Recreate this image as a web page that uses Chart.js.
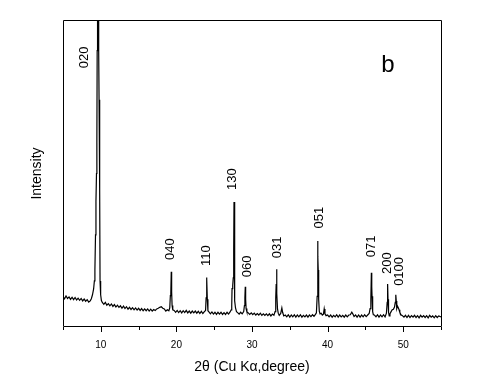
<!DOCTYPE html>
<html>
<head>
<meta charset="utf-8">
<script src="https://cdn.jsdelivr.net/npm/chart.js@4/dist/chart.umd.min.js"></script>
<style>
html,body{margin:0;padding:0;background:#fff;}
#wrap{width:500px;height:380px;}
</style>
</head>
<body>
<div id="wrap"><canvas id="c" width="500" height="380"></canvas></div>
<script>
// ---- data ----
const twoTheta = [
5.0,5.2,5.4,5.6,5.8,6.0,6.2,6.4,6.6,6.8,7.0,7.2,7.4,7.6,7.8,8.0,8.2,8.4,8.6,
8.75,8.9,9.05,9.15,9.22,9.3,9.36,9.43,9.48,9.52,9.57,9.66,9.72,9.77,9.83,9.87,9.9,9.98,10.08,
10.2,10.4,10.6,10.8,11.0,11.2,11.4,11.6,11.8,12.0,12.2,12.4,12.6,12.8,13.0,13.2,13.4,13.6,13.8,14.0,14.2,14.4,14.6,14.8,15.0,15.2,15.4,15.6,15.8,16.0,16.2,16.4,16.6,16.8,17.0,17.2,17.4,17.6,17.8,18.0,18.2,18.4,18.6,18.8,19.0,
19.12,19.2,19.26,19.32,19.37,19.43,19.52,
19.7,19.9,20.1,20.3,20.5,20.7,20.9,21.1,21.3,21.5,21.7,21.9,22.1,22.3,22.5,22.7,22.9,23.1,23.3,23.5,23.7,
23.86,23.93,23.98,24.04,24.09,24.17,
24.3,24.5,24.7,24.9,25.1,25.3,25.5,25.7,25.9,26.1,26.3,26.5,26.7,26.9,27.1,27.25,
27.32,27.36,27.45,27.52,27.58,27.62,27.67,27.71,27.74,27.82,27.95,
28.1,28.3,28.5,28.7,28.9,
29.0,29.06,29.11,29.16,29.22,29.32,
29.5,29.7,29.9,30.1,30.3,30.5,30.7,30.9,31.1,31.3,31.5,31.7,31.9,32.1,32.3,32.5,32.7,32.9,33.05,
33.14,33.2,33.25,33.3,33.37,33.47,
33.6,33.8,33.95,34.05,34.2,34.4,34.6,34.8,35.0,35.2,35.4,35.6,35.8,36.0,36.2,36.4,36.6,36.8,37.0,37.2,37.4,37.6,37.8,38.0,38.2,38.4,38.52,
38.62,38.68,38.73,38.76,38.82,38.9,39.0,39.15,39.3,39.45,39.55,39.65,39.8,
40.0,40.2,40.4,40.6,40.8,41.0,41.2,41.4,41.6,41.8,42.0,42.2,42.4,42.6,42.8,43.0,43.2,43.35,43.5,43.7,43.9,44.1,44.3,44.5,44.7,44.9,45.1,45.3,45.5,
45.62,45.72,45.79,45.84,45.88,45.96,46.05,
46.2,46.4,46.6,46.8,47.0,47.2,47.4,47.6,47.78,
47.88,47.94,47.99,48.06,48.15,48.25,48.4,48.55,48.7,48.85,
48.95,49.02,49.08,49.15,49.25,49.35,49.45,49.55,49.7,49.9,
50.1,50.3,50.5,50.7,50.9,51.1,51.3,51.5,51.7,51.9,52.1,52.3,52.5,52.7,52.9,53.1,53.3,53.5,53.7,53.9,54.1,54.3,54.5,54.7,55.0
];
const intensity = [
9.9,9.2,10.1,9.3,9.8,9.0,9.7,8.9,9.6,8.8,9.4,8.7,9.3,8.5,9.1,8.4,8.9,8.1,8.5,
9.2,10.5,12.4,15,18.6,30,41,50,60,90,170,170,90,74,60,45,15,10.5,8.6,
8.0,7.4,8.0,7.1,7.6,6.9,7.5,6.7,7.3,6.5,7.1,6.4,6.9,6.1,6.8,6.0,6.6,5.8,6.4,5.7,6.3,5.6,6.2,5.5,6.1,5.4,6.0,5.3,5.9,5.3,5.9,5.2,5.8,5.2,5.7,5.4,5.9,6.1,6.4,6.6,6.1,5.9,5.2,5.6,5.3,
6.2,10.2,11,18.0,11.5,7,5.6,
5.4,4.8,5.4,4.7,5.3,4.6,5.3,4.7,5.4,4.6,5.2,4.5,5.2,4.6,5.2,4.5,5.1,4.4,5.1,4.4,5.0,
5.4,9.5,16.1,15.6,9,5.3,
4.9,4.3,4.9,4.2,4.8,4.1,4.8,4.2,4.8,4.1,4.7,4.1,4.8,4.2,4.9,5.6,
7,12.5,13.5,16,25,40.7,38,20,8.5,6.2,5.0,
4.7,4.2,4.8,4.3,5.0,
7,9.5,13.1,9,6,5.0,
4.6,4.1,4.6,4.0,4.5,3.9,4.4,3.9,4.5,3.8,4.3,3.8,4.3,3.7,4.3,3.6,4.2,3.8,5.0,
9.5,14,18.8,11,6,4.5,
3.8,4.4,6.2,4.8,3.6,3.9,3.3,4.0,3.2,3.9,3.3,4.0,3.2,3.9,3.3,4.0,3.2,3.8,3.3,3.9,3.2,3.9,3.4,4.0,3.5,4.1,4.6,
10,28.0,23,18.6,9,5.2,4.3,4.5,3.9,4.2,5.9,4.3,3.7,
3.9,3.3,3.9,3.2,3.8,3.3,4.0,3.2,3.9,3.3,3.8,3.2,3.9,3.3,3.9,4.0,4.8,4.2,3.4,3.9,3.2,3.9,3.2,3.9,3.3,4.0,3.4,3.9,4.4,
6,9,17.7,13.1,10,5,4.0,
3.9,3.3,4.0,3.2,3.9,3.3,4.0,3.3,4.5,
8,14.0,9,4.8,3.6,4.3,5.0,5.6,5.8,6.5,
8,10.5,8.5,6,6.8,6.3,5.6,4.8,4.0,3.7,
3.2,3.8,3.1,3.8,3.1,3.7,3.2,3.8,3.1,3.7,3.0,3.8,3.2,3.7,3.1,3.7,3.0,3.8,3.2,3.6,3.0,3.7,3.1,3.6,3.3
];
const peakNames = ['020','040','110','130','060','031','051','071','200','0100'];
const labelTheta = [7.88,19.15,23.96,27.43,29.35,33.42,38.92,45.75,47.86,49.53];
const labelIntensity = [84.3,21.8,19.9,44.6,16.2,22.4,32.1,22.7,17.3,13.4];
const xMin = 5, xMax = 55, xStep = 5;
const yMin = 0, yMax = 100;
const panelLetter = 'b';
const xTitle = '2θ (Cu Kα,degree)';
const yTitle = 'Intensity';

const FONT = "'Liberation Sans', Arial, sans-serif";

const points = twoTheta.map((t, i) => ({x: t, y: intensity[i]}));

const decorPlugin = {
  id: 'decor',
  afterDatasetsDraw(chart) {
    const {ctx, chartArea: a, scales: {x, y}} = chart;
    ctx.save();
    // frame
    ctx.strokeStyle = '#000';
    ctx.lineWidth = 1;
    ctx.beginPath();
    ctx.rect(a.left + 0.5, a.top + 0.5, a.right - a.left, a.bottom - a.top - 1);
    ctx.stroke();
    // ticks (major at labelled values, minor otherwise)
    x.ticks.forEach(t => {
      const px = Math.round(x.getPixelForValue(t.value)) + 0.5;
      const major = t.value % 10 === 0;
      ctx.beginPath();
      ctx.moveTo(px, a.bottom);
      ctx.lineTo(px, a.bottom + (major ? 5 : 3));
      ctx.stroke();
    });
    // peak labels
    ctx.fillStyle = '#000';
    ctx.font = '13px ' + FONT;
    ctx.textAlign = 'left';
    ctx.textBaseline = 'middle';
    peakNames.forEach((n, i) => {
      const px = x.getPixelForValue(labelTheta[i]);
      const py = y.getPixelForValue(labelIntensity[i]);
      ctx.save();
      ctx.translate(px, py);
      ctx.rotate(-Math.PI / 2);
      ctx.fillText(n, 0, 0);
      ctx.restore();
    });
    // panel letter
    ctx.font = '24px ' + FONT;
    ctx.textAlign = 'center';
    ctx.textBaseline = 'alphabetic';
    ctx.fillText(panelLetter, a.right - 53, a.top + 52);
    ctx.restore();
  }
};

new Chart(document.getElementById('c'), {
  type: 'line',
  data: {
    datasets: [{
      data: points,
      borderColor: '#000',
      borderWidth: 1.2,
      pointRadius: 0,
      tension: 0,
      fill: false
    }]
  },
  options: {
    responsive: false,
    animation: false,
    parsing: true,
    layout: {padding: {top: 20, right: 59, left: 0, bottom: 0}},
    plugins: {legend: {display: false}, tooltip: {enabled: false}},
    scales: {
      x: {
        type: 'linear',
        min: xMin, max: xMax,
        grid: {display: false},
        border: {display: false},
        ticks: {
          stepSize: xStep,
          autoSkip: false,
          maxRotation: 0,
          padding: 4,
          color: '#000',
          font: {family: FONT, size: 10},
          callback: v => (v % 10 === 0 ? String(v) : '')
        },
        title: {
          display: true,
          text: xTitle,
          color: '#000',
          font: {family: FONT, size: 14},
          padding: {top: 0, bottom: 4}
        },
        afterFit(s) { s.height = 53; }
      },
      y: {
        type: 'linear',
        min: yMin, max: yMax,
        grid: {display: false},
        border: {display: false},
        ticks: {display: false},
        title: {
          display: true,
          text: yTitle,
          color: '#000',
          font: {family: FONT, size: 14},
          padding: {top: 29, bottom: 0}
        },
        afterFit(s) { s.width = 63; }
      }
    }
  },
  plugins: [decorPlugin]
});
</script>
</body>
</html>
